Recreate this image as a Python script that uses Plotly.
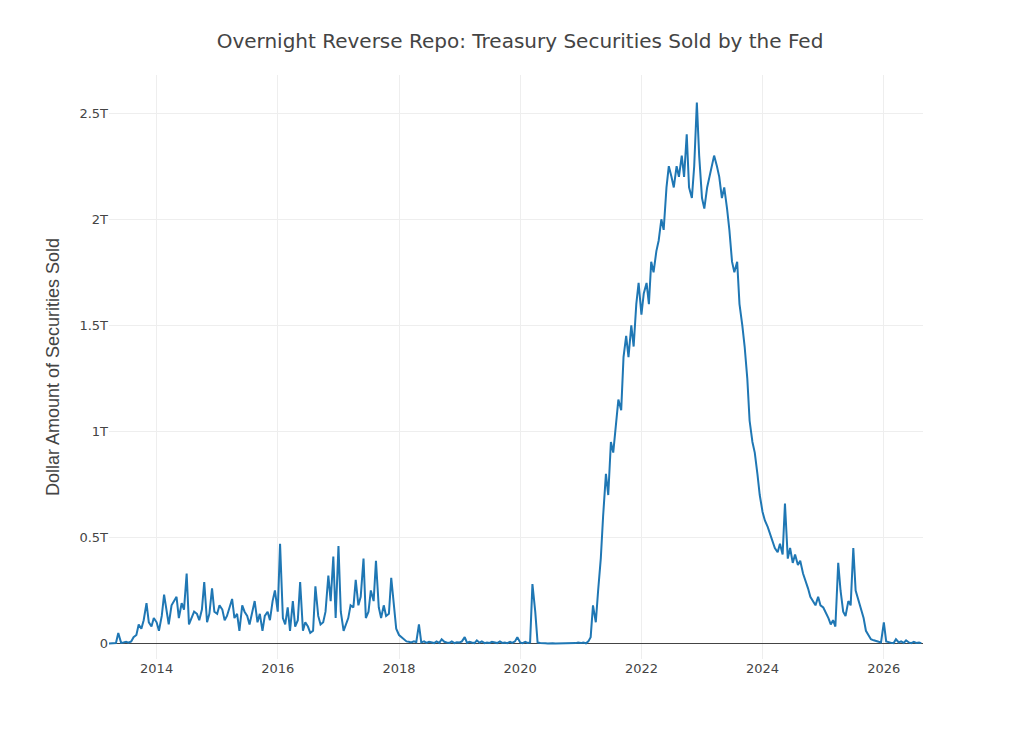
import pandas as pd
import plotly.graph_objects as go

# values in billions, twice a month from Mar 2013 to Aug 2026
values_b = [
    # 2013 Mar-Dec
    0, 0, 0, 1, 2, 50, 3, 5, 8, 4, 10, 30, 40, 90, 70, 110, 190, 100, 80, 120,
    # 2014
    100, 60, 130, 230, 150, 90, 180, 200, 220, 120, 190, 160, 330, 90, 120, 150, 140, 110, 160, 290, 100, 140, 260, 150,
    # 2015
    140, 180, 160, 110, 130, 170, 210, 120, 140, 60, 180, 150, 130, 90, 160, 200, 100, 140, 60, 130, 150, 110, 200, 250,
    # 2016
    150, 470, 120, 90, 170, 60, 200, 80, 110, 290, 60, 100, 80, 50, 60, 270, 130, 90, 100, 150, 320, 200, 410, 120,
    # 2017
    460, 150, 60, 90, 120, 180, 170, 300, 180, 220, 400, 120, 150, 250, 200, 390, 170, 120, 180, 130, 140, 310, 180, 70,
    # 2018
    40, 30, 20, 10, 8, 5, 10, 6, 90, 5, 10, 3, 8, 5, 2, 10, 3, 20, 8, 5, 3, 10, 2, 6,
    # 2019
    5, 10, 30, 3, 8, 5, 2, 15, 4, 10, 2, 5, 3, 8, 4, 2, 10, 3, 5, 2, 8, 3, 10, 30,
    # 2020
    5, 2, 8, 3, 5, 280, 150, 5, 2, 3, 1, 0, 2, 1, 0, 0, 1, 0, 0, 1, 0, 0, 2, 5,
    # 2021
    2, 5, 1, 10, 30, 180, 100, 250, 400, 600, 800, 700, 950, 900, 1050, 1150, 1100, 1350, 1450, 1350, 1500, 1400, 1600, 1700,
    # 2022
    1550, 1650, 1700, 1600, 1800, 1750, 1850, 1900, 2000, 1950, 2150, 2250, 2200, 2150, 2250, 2200, 2300, 2200, 2400, 2150, 2100, 2250, 2550, 2300,
    # 2023
    2100, 2050, 2150, 2200, 2250, 2300, 2250, 2200, 2100, 2150, 2050, 1950, 1800, 1750, 1800, 1600, 1500, 1400, 1250, 1050, 950, 900, 800, 700,
    # 2024
    620, 580, 550, 520, 480, 450, 430, 470, 420, 660, 400, 450, 380, 420, 370, 390, 330, 300, 260, 220, 200, 180, 220, 180,
    # 2025
    170, 150, 120, 90, 110, 80, 380, 250, 150, 130, 200, 180, 450, 250, 200, 170, 120, 60, 40, 20, 15, 10, 8, 5,
    # 2026 Jan-Aug
    100, 10, 5, 3, 2, 20, 5, 10, 3, 15, 5, 2, 8, 3, 5, 2,
]
dates = pd.date_range("2013-03-01", periods=len(values_b), freq="SMS")
amounts = [v * 1e9 for v in values_b]

y_ticks = [0, 0.5e12, 1e12, 1.5e12, 2e12, 2.5e12]
y_labels = ["0", "0.5T", "1T", "1.5T", "2T", "2.5T"]

fig = go.Figure(go.Scatter(x=dates, y=amounts, mode="lines",
                           line=dict(color="#1f77b4", width=2)))

fig.update_layout(
    width=1024, height=731,
    paper_bgcolor="white", plot_bgcolor="white",
    font=dict(family="DejaVu Sans", color="#444", size=13),
    title=dict(text="Overnight Reverse Repo: Treasury Securities Sold by the Fed",
               x=0.5, y=0.965, font=dict(size=20)),
    margin=dict(l=101, r=109, t=67, b=80, autoexpand=False),
    showlegend=False,
    xaxis=dict(range=["2013-03-20", "2026-08-25"], showgrid=True, gridcolor="#eee",
               zeroline=False, showline=False, tickformat="%Y", dtick="M24",
               tick0="2014-01-01", ticks=""),
    yaxis=dict(range=[-0.073e12, 2.68e12], tickvals=y_ticks, ticktext=y_labels,
               showgrid=True, gridcolor="#eee", zeroline=True, zerolinecolor="#444",
               zerolinewidth=1, automargin=False,
               title=dict(text="Dollar Amount of Securities Sold",
                          font=dict(family="Liberation Sans", size=18))),
)

fig.write_html("out.html")
